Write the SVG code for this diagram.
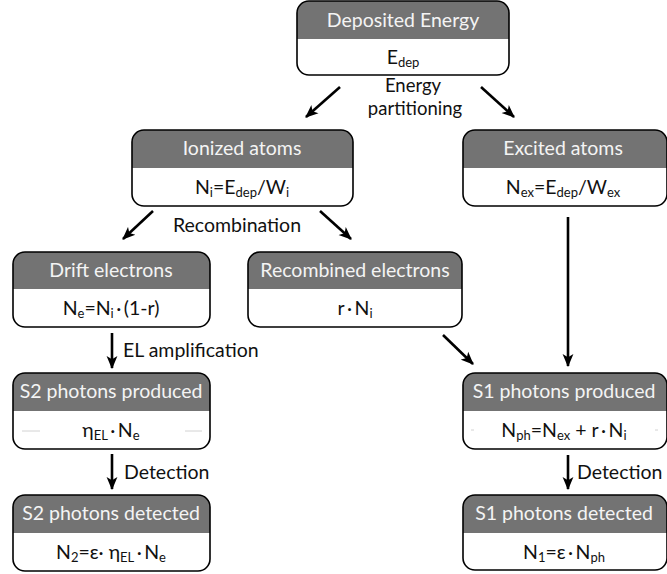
<svg xmlns="http://www.w3.org/2000/svg" width="667" height="574" viewBox="0 0 667 574">
<style>
text{font-family:Lato,"Open Sans","DejaVu Sans",sans-serif;font-size:19.5px;fill:#111;text-anchor:middle}
text.h{fill:#f4f4f4}
text.lbl{text-anchor:start}
text.c{text-anchor:middle}
text.ep{font-size:18.5px}
.sub{font-size:13px}
.hd{fill:#737373}
.frame{fill:none;stroke:#000;stroke-width:1.6}
.bg{fill:#fff}
.arr{stroke:#000;stroke-width:2.6;fill:none;marker-end:url(#ah)}
.faint{stroke:#d2d2d2;stroke-width:1}
</style>
<defs>
<marker id="ah" viewBox="0 0 12 10" refX="11" refY="5" markerWidth="13" markerHeight="12" markerUnits="userSpaceOnUse" orient="auto">
<path d="M0,0 L12,5 L0,10 L3,5 Z" fill="#000"/>
</marker>
</defs>

<g id="connectors">
<line class="arr" x1="340" y1="87" x2="306" y2="117"/>
<line class="arr" x1="481" y1="87" x2="514" y2="117"/>
<line class="arr" x1="153" y1="211" x2="123" y2="239"/>
<line class="arr" x1="320" y1="211" x2="351" y2="239"/>
<line class="arr" x1="568" y1="217" x2="568" y2="366"/>
<line class="arr" x1="443" y1="335" x2="473" y2="364"/>
<line class="arr" x1="112" y1="333" x2="112" y2="368"/>
<line class="arr" x1="112" y1="454" x2="112" y2="489"/>
<line class="arr" x1="568" y1="455" x2="568" y2="489"/>
<text class="c ep" x="413" y="91.5">Energy</text>
<text class="c ep" x="415" y="114.5">partitioning</text>
<text class="c" x="237" y="232">Recombination</text>
<text class="lbl" x="123" y="357">EL amplification</text>
<text class="lbl" x="124" y="479">Detection</text>
<text class="lbl" x="577" y="479">Detection</text>
</g>

<g id="deposited">
<rect class="bg" x="297" y="1" width="212" height="74" rx="12"/>
<path class="hd" d="M297,39 V13 A12,12 0 0 1 309,1 H497 A12,12 0 0 1 509,13 V39 Z"/>
<rect class="frame" x="297" y="1" width="212" height="74" rx="12"/>
<text class="h" x="403" y="27">Deposited Energy</text>
<text x="403" y="64">E<tspan class="sub" dy="3">dep</tspan></text>
</g>

<g id="ionized">
<rect class="bg" x="132" y="130" width="221" height="76" rx="12"/>
<path class="hd" d="M132,168 V142 A12,12 0 0 1 144,130 H341 A12,12 0 0 1 353,142 V168 Z"/>
<rect class="frame" x="132" y="130" width="221" height="76" rx="12"/>
<text class="h" x="242" y="155">Ionized atoms</text>
<text x="242" y="194">N<tspan class="sub" dy="3">i</tspan><tspan dy="-3">=E</tspan><tspan class="sub" dy="3">dep</tspan><tspan dy="-3">/W</tspan><tspan class="sub" dy="3">i</tspan></text>
</g>

<g id="excited">
<rect class="bg" x="463" y="130" width="204" height="76" rx="12"/>
<path class="hd" d="M463,168 V142 A12,12 0 0 1 475,130 H655 A12,12 0 0 1 667,142 V168 Z"/>
<rect class="frame" x="463" y="130" width="204" height="76" rx="12"/>
<text class="h" x="563" y="155">Excited atoms</text>
<text x="563" y="194">N<tspan class="sub" dy="3">ex</tspan><tspan dy="-3">=E</tspan><tspan class="sub" dy="3">dep</tspan><tspan dy="-3">/W</tspan><tspan class="sub" dy="3">ex</tspan></text>
</g>

<g id="drift">
<rect class="bg" x="13" y="252" width="197" height="75" rx="12"/>
<path class="hd" d="M13,289 V264 A12,12 0 0 1 25,252 H198 A12,12 0 0 1 210,264 V289 Z"/>
<rect class="frame" x="13" y="252" width="197" height="75" rx="12"/>
<text class="h" x="111" y="277">Drift electrons</text>
<text x="111" y="315">N<tspan class="sub" dy="3">e</tspan><tspan dy="-3">=N</tspan><tspan class="sub" dy="3">i</tspan><tspan dy="-3">&#8201;·&#8201;(1-r)</tspan></text>
</g>

<g id="recombined">
<rect class="bg" x="248" y="252" width="214" height="75" rx="12"/>
<path class="hd" d="M248,289 V264 A12,12 0 0 1 260,252 H450 A12,12 0 0 1 462,264 V289 Z"/>
<rect class="frame" x="248" y="252" width="214" height="75" rx="12"/>
<text class="h" x="355" y="277">Recombined electrons</text>
<text x="355" y="315">r&#8201;·&#8201;N<tspan class="sub" dy="3">i</tspan></text>
</g>

<g id="s2produced">
<rect class="bg" x="13" y="373" width="197" height="76" rx="12"/>
<path class="hd" d="M13,411 V385 A12,12 0 0 1 25,373 H198 A12,12 0 0 1 210,385 V411 Z"/>
<line class="faint" x1="22" y1="431" x2="40" y2="431"/>
<line class="faint" x1="185" y1="431" x2="202" y2="431"/>
<rect class="frame" x="13" y="373" width="197" height="76" rx="12"/>
<text class="h" x="111" y="398">S2 photons produced</text>
<text x="111" y="437">η<tspan class="sub" dy="3">EL</tspan><tspan dy="-3">&#8201;·&#8201;N</tspan><tspan class="sub" dy="3">e</tspan></text>
</g>

<g id="s1produced">
<rect class="bg" x="463" y="373" width="204" height="76" rx="12"/>
<path class="hd" d="M463,411 V385 A12,12 0 0 1 475,373 H655 A12,12 0 0 1 667,385 V411 Z"/>
<line class="faint" x1="471" y1="430" x2="474" y2="430"/>
<line class="faint" x1="655" y1="430" x2="658" y2="430"/>
<rect class="frame" x="463" y="373" width="204" height="76" rx="12"/>
<text class="h" x="564" y="398">S1 photons produced</text>
<text x="564" y="437">N<tspan class="sub" dy="3">ph</tspan><tspan dy="-3">=N</tspan><tspan class="sub" dy="3">ex</tspan><tspan dy="-3"> + r&#8201;·&#8201;N</tspan><tspan class="sub" dy="3">i</tspan></text>
</g>

<g id="s2detected">
<rect class="bg" x="13" y="495" width="197" height="76" rx="12"/>
<path class="hd" d="M13,533 V507 A12,12 0 0 1 25,495 H198 A12,12 0 0 1 210,507 V533 Z"/>
<rect class="frame" x="13" y="495" width="197" height="76" rx="12"/>
<text class="h" x="111" y="520">S2 photons detected</text>
<text x="111" y="559">N<tspan class="sub" dy="3">2</tspan><tspan dy="-3">=ε·  η</tspan><tspan class="sub" dy="3">EL</tspan><tspan dy="-3">&#8201;·&#8201;N</tspan><tspan class="sub" dy="3">e</tspan></text>
</g>

<g id="s1detected">
<rect class="bg" x="463" y="495" width="204" height="75" rx="12"/>
<path class="hd" d="M463,533 V507 A12,12 0 0 1 475,495 H655 A12,12 0 0 1 667,507 V533 Z"/>
<rect class="frame" x="463" y="495" width="204" height="75" rx="12"/>
<text class="h" x="564" y="520">S1 photons detected</text>
<text x="564" y="559">N<tspan class="sub" dy="3">1</tspan><tspan dy="-3">=ε&#8201;·&#8201;N</tspan><tspan class="sub" dy="3">ph</tspan></text>
</g>
</svg>
